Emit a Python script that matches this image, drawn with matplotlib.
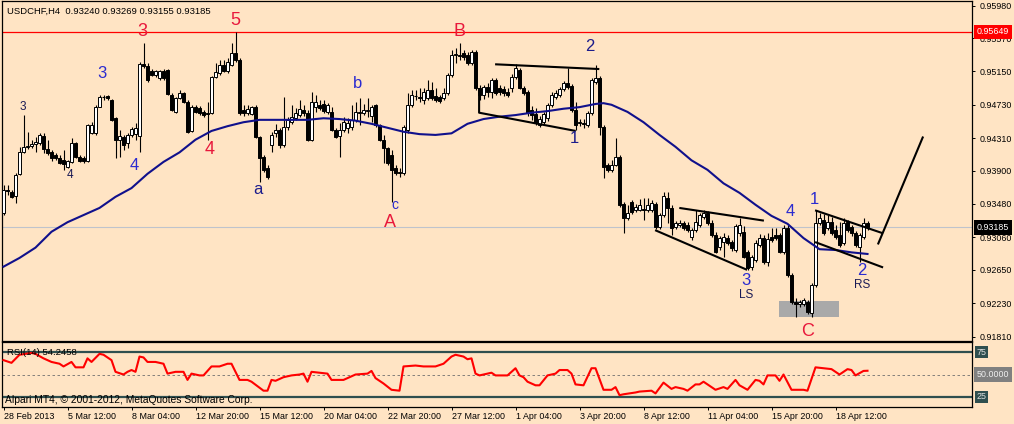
import numpy as np
import matplotlib
matplotlib.use("Agg")
import matplotlib.pyplot as plt
from matplotlib.patches import Rectangle
from matplotlib.transforms import blended_transform_factory

plt.rcParams['font.family'] = ['Liberation Sans', 'DejaVu Sans']

symbol = "USDCHF,H4"
last_ohlc = [0.93240, 0.93269, 0.93155, 0.93185]
resistance = 0.95649
rsi_now = 54.2458

# H4 bars, prices in 1/10000 CHF
opens = [
    9337, 9366, 9363, 9358, 9386, 9413, 9420, 9421, 9424, 9425, 9434, 9417, 9413, 9410, 9406, 9403,
    9395, 9401, 9425, 9407, 9406, 9402, 9437, 9437, 9470, 9483, 9484, 9479, 9456, 9429, 9432, 9425,
    9435, 9436, 9434, 9524, 9522, 9516, 9511, 9507, 9516, 9517, 9485, 9464, 9482, 9488, 9476, 9440,
    9470, 9469, 9464, 9463, 9463, 9508, 9513, 9523, 9516, 9523, 9538, 9529, 9466, 9463, 9461, 9470,
    9432, 9407, 9393, 9422, 9437, 9441, 9422, 9445, 9451, 9456, 9460, 9466, 9463, 9429, 9470, 9473,
    9474, 9464, 9464, 9441, 9434, 9441, 9444, 9445, 9454, 9463, 9463, 9465, 9459, 9473, 9448, 9429,
    9419, 9410, 9393, 9388, 9387, 9441, 9473, 9484, 9483, 9479, 9482, 9492, 9484, 9483, 9482, 9488,
    9511, 9536, 9536, 9538, 9536, 9526, 9539, 9494, 9485, 9495, 9489, 9504, 9494, 9493, 9489, 9494,
    9508, 9517, 9494, 9489, 9466, 9461, 9448, 9451, 9456, 9473, 9483, 9485, 9493, 9500, 9497, 9466,
    9450, 9450, 9448, 9463, 9502, 9507, 9445, 9397, 9391, 9397, 9407, 9348, 9330, 9350, 9340, 9340,
    9342, 9340, 9340, 9348, 9319, 9334, 9356, 9343, 9319, 9322, 9324, 9322, 9306, 9315, 9322, 9332,
    9337, 9324, 9309, 9294, 9300, 9305, 9300, 9290, 9311, 9313, 9287, 9269, 9277, 9296, 9305, 9275,
    9306, 9309, 9309, 9287, 9318, 9259, 9224, 9222, 9222, 9224, 9211, 9246, 9324, 9328, 9318, 9325,
    9315, 9309, 9299, 9325, 9319, 9311, 9294, 9306, 9324.0,
]
highs = [
    9372, 9372, 9366, 9387, 9420, 9460, 9439, 9429, 9432, 9437, 9437, 9429, 9416, 9412, 9410, 9416,
    9403, 9431, 9426, 9410, 9408, 9449, 9451, 9473, 9485, 9485, 9485, 9480, 9458, 9441, 9435, 9437,
    9445, 9450, 9527, 9551, 9526, 9518, 9517, 9517, 9518, 9518, 9488, 9483, 9492, 9489, 9479, 9473,
    9473, 9471, 9466, 9476, 9509, 9526, 9529, 9529, 9532, 9551, 9565, 9532, 9473, 9473, 9471, 9473,
    9434, 9410, 9397, 9439, 9449, 9444, 9483, 9458, 9473, 9469, 9479, 9473, 9466, 9489, 9485, 9479,
    9479, 9475, 9470, 9444, 9450, 9458, 9456, 9473, 9476, 9482, 9474, 9482, 9473, 9474, 9449, 9435,
    9420, 9416, 9397, 9393, 9448, 9488, 9492, 9492, 9494, 9494, 9504, 9502, 9494, 9485, 9494, 9513,
    9542, 9545, 9551, 9542, 9539, 9542, 9542, 9498, 9498, 9500, 9507, 9507, 9498, 9497, 9494, 9512,
    9524, 9519, 9497, 9492, 9471, 9469, 9459, 9464, 9475, 9489, 9492, 9495, 9503, 9519, 9499, 9476,
    9455, 9455, 9465, 9507, 9523, 9509, 9448, 9400, 9403, 9431, 9410, 9350, 9347, 9353, 9348, 9354,
    9356, 9356, 9353, 9350, 9337, 9363, 9363, 9347, 9327, 9328, 9327, 9325, 9318, 9340, 9337, 9340,
    9339, 9328, 9313, 9308, 9311, 9309, 9303, 9323, 9330, 9320, 9290, 9284, 9303, 9310, 9309, 9311,
    9318, 9318, 9311, 9322, 9322, 9261, 9230, 9227, 9230, 9227, 9248, 9340, 9337, 9335, 9334, 9332,
    9322, 9325, 9330, 9328, 9322, 9314, 9311, 9330, 9326.9,
]
lows = [
    9334, 9359, 9356, 9349, 9385, 9412, 9417, 9419, 9413, 9422, 9412, 9410, 9402, 9403, 9398, 9391,
    9393, 9400, 9406, 9401, 9400, 9401, 9436, 9435, 9470, 9479, 9479, 9453, 9406, 9407, 9416, 9419,
    9432, 9429, 9413, 9519, 9502, 9509, 9508, 9504, 9504, 9485, 9465, 9463, 9480, 9475, 9437, 9439,
    9463, 9460, 9458, 9429, 9461, 9507, 9511, 9514, 9513, 9522, 9527, 9460, 9459, 9460, 9460, 9431,
    9376, 9388, 9379, 9413, 9432, 9419, 9420, 9441, 9449, 9454, 9458, 9459, 9427, 9427, 9464, 9466,
    9463, 9461, 9440, 9431, 9407, 9439, 9437, 9441, 9451, 9448, 9460, 9458, 9451, 9445, 9427, 9400,
    9397, 9350, 9385, 9382, 9385, 9437, 9470, 9479, 9476, 9474, 9479, 9479, 9476, 9475, 9479, 9485,
    9508, 9526, 9529, 9529, 9523, 9523, 9492, 9479, 9480, 9483, 9482, 9485, 9485, 9484, 9483, 9489,
    9505, 9493, 9485, 9459, 9454, 9448, 9445, 9449, 9453, 9470, 9480, 9483, 9490, 9493, 9464, 9441,
    9446, 9444, 9445, 9460, 9499, 9435, 9381, 9388, 9388, 9396, 9344, 9311, 9328, 9335, 9338, 9339,
    9328, 9338, 9338, 9316, 9316, 9332, 9324, 9309, 9316, 9319, 9315, 9313, 9303, 9313, 9319, 9329,
    9322, 9306, 9286, 9290, 9281, 9296, 9289, 9287, 9308, 9280, 9265, 9265, 9275, 9294, 9272, 9270,
    9300, 9303, 9286, 9285, 9256, 9222, 9206, 9218, 9219, 9209, 9206, 9243, 9322, 9309, 9315, 9309,
    9304, 9294, 9296, 9313, 9308, 9294, 9275, 9304, 9315.5,
]
closes = [
    9366, 9364, 9357, 9385, 9413, 9420, 9421, 9424, 9426, 9435, 9417, 9412, 9406, 9406, 9400, 9398,
    9402, 9425, 9407, 9402, 9402, 9448, 9448, 9470, 9483, 9483, 9482, 9454, 9429, 9434, 9422, 9435,
    9442, 9444, 9524, 9522, 9504, 9511, 9516, 9516, 9507, 9487, 9466, 9482, 9488, 9476, 9439, 9470,
    9464, 9463, 9460, 9461, 9508, 9514, 9523, 9516, 9527, 9538, 9529, 9463, 9463, 9468, 9470, 9432,
    9406, 9391, 9382, 9435, 9441, 9422, 9445, 9454, 9458, 9463, 9468, 9463, 9429, 9476, 9476, 9469,
    9465, 9473, 9441, 9432, 9441, 9451, 9450, 9454, 9464, 9464, 9466, 9466, 9470, 9448, 9429, 9419,
    9400, 9391, 9387, 9387, 9445, 9473, 9485, 9484, 9482, 9489, 9492, 9482, 9479, 9478, 9488, 9511,
    9536, 9537, 9534, 9533, 9526, 9539, 9494, 9485, 9495, 9489, 9504, 9488, 9489, 9488, 9485, 9508,
    9519, 9494, 9488, 9463, 9460, 9450, 9455, 9461, 9473, 9485, 9488, 9493, 9500, 9495, 9466, 9448,
    9451, 9449, 9463, 9504, 9507, 9445, 9395, 9391, 9397, 9407, 9347, 9330, 9337, 9338, 9344, 9347,
    9340, 9347, 9349, 9319, 9334, 9358, 9343, 9318, 9324, 9324, 9318, 9315, 9315, 9325, 9334, 9337,
    9324, 9309, 9287, 9305, 9306, 9299, 9293, 9320, 9322, 9281, 9267, 9281, 9299, 9305, 9275, 9304,
    9303, 9305, 9287, 9318, 9259, 9224, 9222, 9224, 9227, 9212, 9246, 9324, 9330, 9311, 9325, 9311,
    9306, 9296, 9324, 9315, 9311, 9296, 9309, 9324, 9318.5,
]

# moving average (blue line), sampled on bars
ma_bar = [0, 4, 8, 12, 16, 20, 24, 28, 32, 36, 40, 44, 48, 52, 56, 60, 64, 68, 72, 76,
          80, 84, 88, 92, 96, 100, 104, 108, 112, 116, 120, 124, 128, 132, 136, 140, 144, 148,
          150, 152, 156, 160, 164, 168, 172, 176, 180, 184, 188, 192, 196, 200, 204, 208, 212, 216]
ma_val = [9269, 9280, 9293, 9313, 9325, 9334, 9343, 9357, 9368, 9386, 9401, 9413, 9429, 9440,
          9446, 9451, 9454, 9454, 9454, 9454, 9456, 9455, 9453, 9449, 9444, 9439, 9436, 9435,
          9437, 9449, 9455, 9458, 9460, 9463, 9465, 9468, 9470, 9474, 9475, 9473, 9464, 9451,
          9435, 9420, 9403, 9391, 9374, 9362, 9347, 9333, 9323, 9305, 9291, 9290, 9287, 9285]

# RSI(14)
rsi_bar = [0, 2, 4, 7, 8, 10, 12, 14, 15, 17, 18, 20, 21, 22, 24, 25, 27, 28, 30, 31,
           32, 33, 34, 35, 36, 38, 40, 41, 43, 45, 46, 47, 49, 50, 52, 54, 56, 57, 59, 61,
           62, 65, 66, 67, 68, 70, 72, 74, 75, 76, 77, 79, 81, 82, 83, 85, 88, 91, 92, 93,
           95, 97, 99, 100, 103, 105, 108, 110, 112, 113, 115, 116, 117, 118, 119, 122, 123, 126, 128, 129,
           130, 131, 133, 134, 136, 138, 139, 141, 142, 143, 145, 147, 148, 150, 152, 153, 154, 155, 158, 159,
           162, 163, 165, 167, 168, 170, 171, 173, 174, 175, 177, 178, 180, 181, 183, 184, 186, 188, 189, 190,
           191, 193, 194, 195, 197, 200, 201, 203, 205, 207, 209, 211, 212, 213, 215, 216]
rsi_val = [66, 63, 72, 74, 73, 68, 64, 62, 59, 64, 58, 58, 68, 64, 73, 72, 66, 53, 50, 53,
           55, 53, 70, 69, 64, 64, 62, 51, 53, 53, 44, 51, 49, 49, 59, 59, 62, 62, 44, 44,
           42, 32, 32, 44, 43, 47, 49, 50, 51, 42, 53, 52, 51, 44, 44, 44, 50, 51, 54, 46,
           40, 33, 32, 59, 60, 59, 59, 62, 70, 72, 70, 67, 68, 51, 49, 52, 49, 49, 57, 49,
           47, 42, 38, 38, 49, 51, 55, 55, 51, 39, 38, 57, 57, 33, 33, 36, 27, 28, 30, 31,
           32, 29, 41, 34, 36, 34, 32, 39, 39, 42, 36, 33, 36, 34, 44, 38, 33, 44, 43, 39,
           49, 49, 43, 50, 33, 33, 32, 58, 57, 56, 50, 56, 55, 49, 54, 54.2]

time_bar = [0, 16, 32, 48, 64, 80, 96, 112, 128, 144, 160, 176, 192, 208]
time_labels = ["28 Feb 2013", "5 Mar 12:00", "8 Mar 04:00", "12 Mar 20:00", "15 Mar 12:00",
               "20 Mar 04:00", "22 Mar 20:00", "27 Mar 12:00", "1 Apr 04:00", "3 Apr 20:00",
               "8 Apr 12:00", "11 Apr 04:00", "15 Apr 20:00", "18 Apr 12:00"]

price_ticks = [0.95980, 0.95570, 0.95150, 0.94730, 0.94310, 0.93900,
               0.93480, 0.93060, 0.92650, 0.92230, 0.91810]

RED = '#E8193C'
BLUE = '#2B2BD0'
NAVY = '#1C1C8C'
DARK = '#1A1A55'

# wave marks: text, bar, price, colour, size
waves = [
    ("3", 4.9, 0.9470, DARK, 8.5), ("4", 16.6, 0.9385, DARK, 8.5),
    ("3", 24.6, 0.9513, BLUE, 12), ("4", 32.6, 0.9397, BLUE, 12),
    ("3", 34.6, 0.9565, RED, 13), ("5", 57.9, 0.9579, RED, 13), ("4", 51.6, 0.9416, RED, 13),
    ("a", 63.6, 0.9366, NAVY, 12), ("b", 88.6, 0.9500, BLUE, 12), ("c", 97.9, 0.9347, BLUE, 10),
    ("A", 96.6, 0.9325, RED, 13), ("B", 113.9, 0.9565, RED, 13),
    ("2", 146.6, 0.9546, NAVY, 12), ("1", 142.6, 0.9430, NAVY, 12),
    ("4", 196.6, 0.9338, BLUE, 12), ("1", 202.6, 0.9353, BLUE, 12),
    ("3", 185.6, 0.9251, BLUE, 12), ("LS", 185.6, 0.9233, DARK, 8.5),
    ("2", 214.6, 0.9264, BLUE, 12), ("RS", 214.6, 0.9246, DARK, 8.5),
    ("C", 200.9, 0.9187, RED, 13),
]

# hand-drawn lines (bar, price)
drawn = [
    ([122.9, 148.95], [0.9524, 0.9518]),
    ([118.9, 118.9, 143.05], [0.9494, 0.9463, 0.9440]),
    ([168.95, 190.1], [0.9343, 0.9327]),
    ([162.9, 185.9], [0.9315, 0.9265]),
    ([202.9, 219.9], [0.9340, 0.9311]),
    ([202.9, 219.9], [0.9300, 0.9268]),
    ([218.6, 229.9], [0.9297, 0.9433]),
]
box_bars = (193.9, 208.9)
box_prices = (0.9205, 0.9226)

BG = '#FFE4C4'
W, H = 1014, 424

o = np.array(opens) / 1e4
h = np.array(highs) / 1e4
l = np.array(lows) / 1e4
c = np.array(closes) / 1e4
x = np.arange(len(o))

fig = plt.figure(figsize=(W / 100, H / 100), dpi=100)
fig.patch.set_facecolor(BG)


def px_axes(x0, y0, x1, y1):
    return fig.add_axes([x0 / W, 1 - y1 / H, (x1 - x0) / W, (y1 - y0) / H])


ax = px_axes(2, 1, 972, 341)
rax = px_axes(2, 342, 972, 406.5)
for a in (ax, rax):
    a.set_facecolor(BG)
    a.set_xlim(-0.375, 242.125)
    for s in a.spines.values():
        s.set_color('black')
        s.set_linewidth(0.9)

ax.set_ylim(0.917534, 0.960374)

# background objects
ax.add_patch(Rectangle((box_bars[0], box_prices[0]), box_bars[1] - box_bars[0],
                       box_prices[1] - box_prices[0], fc='#A9A9A9', ec='none', zorder=1))
ax.axhline(last_ohlc[3], color='#BFC3CC', lw=0.8, zorder=0.5)
ax.axhline(resistance, color='red', lw=0.9, zorder=2)

# candles
up = c > o
dn = c < o
eq = c == o
ax.vlines(x, l, h, color='black', lw=0.8, zorder=3)
ax.bar(x[up], (c - o)[up], bottom=o[up], width=0.6, color='white',
       edgecolor='black', lw=0.7, zorder=4)
ax.bar(x[dn], (o - c)[dn], bottom=c[dn], width=0.6, color='black',
       edgecolor='black', lw=0.7, zorder=4)
ax.hlines(o[eq], x[eq] - 0.4, x[eq] + 0.4, color='black', lw=0.8, zorder=4)

ax.plot(ma_bar, np.array(ma_val) / 1e4, color='#10108C', lw=1.5, zorder=5)

for xs, ys in drawn:
    ax.plot(xs, ys, color='black', lw=1.5, zorder=6, solid_capstyle='butt')

for txt, bx, py, col, fs in waves:
    ax.text(bx, py, txt, color=col, fontsize=fs, ha='center', va='center', zorder=7)

# price axis
ax.yaxis.tick_right()
ax.set_yticks(price_ticks)
ax.set_yticklabels([f"{p:.5f}" for p in price_ticks])
ax.tick_params(axis='y', direction='out', length=2.2, width=0.7, pad=3, labelsize=6.4)
ax.tick_params(axis='x', bottom=False, labelbottom=False)

right = blended_transform_factory(ax.transAxes, ax.transData)
ax.text(1.0048, resistance, f"{resistance:.5f}", transform=right, color='white',
        fontsize=6.4, ha='left', va='center', clip_on=False, zorder=10,
        bbox=dict(boxstyle='square,pad=0.3', fc='#FF0000', ec='none'))
ax.text(1.0048, last_ohlc[3], f"{last_ohlc[3]:.5f}", transform=right, color='white',
        fontsize=6.4, ha='left', va='center', clip_on=False, zorder=10,
        bbox=dict(boxstyle='square,pad=0.3', fc='black', ec='none'))

fig.text(7 / W, 1 - 11 / H, f"{symbol}  " + " ".join(f"{v:.5f}" for v in last_ohlc),
         fontsize=6.8, ha='left', va='center', color='black')

# RSI panel
rax.set_ylim(14.4, 86.2)
rax.axhline(75, color='#2F4F4F', lw=1.6, zorder=2)
rax.axhline(25, color='#2F4F4F', lw=1.6, zorder=2)
rax.axhline(50, color='#707070', lw=0.6, ls=(0, (3, 3)), zorder=2)
rax.plot(rsi_bar, rsi_val, color='#FF0000', lw=1.5, zorder=3)
rax.set_yticks([])
rright = blended_transform_factory(rax.transAxes, rax.transData)
rax.text(5 / 970, 75, f"RSI(14) {rsi_now:.4f}", transform=rright, fontsize=6.8,
         ha='left', va='center', color='black', zorder=4)
for lvl in (75, 25):
    rax.text(1.0048, lvl, str(lvl), transform=rright, color='#E0E0E0', fontsize=6.4,
             ha='left', va='center', clip_on=False, zorder=10,
             bbox=dict(boxstyle='square,pad=0.2', fc='#2F4F4F', ec='none'))
rax.text(1.0048, 50, "50.0000", transform=rright, color='#EEEEEE', fontsize=6.4,
         ha='left', va='center', clip_on=False, zorder=10,
         bbox=dict(boxstyle='square,pad=0.3', fc='#808080', ec='none'))
fig.text(5 / W, 1 - 400 / H, "Alpari MT4, \u00a9 2001-2012, MetaQuotes Software Corp.",
         fontsize=7.4, ha='left', va='center', color='black')

rax.set_xticks(time_bar)
rax.set_xticklabels(time_labels)
for lbl in rax.get_xticklabels():
    lbl.set_horizontalalignment('left')
rax.tick_params(axis='x', direction='out', length=2.2, width=0.7, pad=1.5, labelsize=6.4)

fig.savefig("out.png", dpi=100, facecolor=BG)
